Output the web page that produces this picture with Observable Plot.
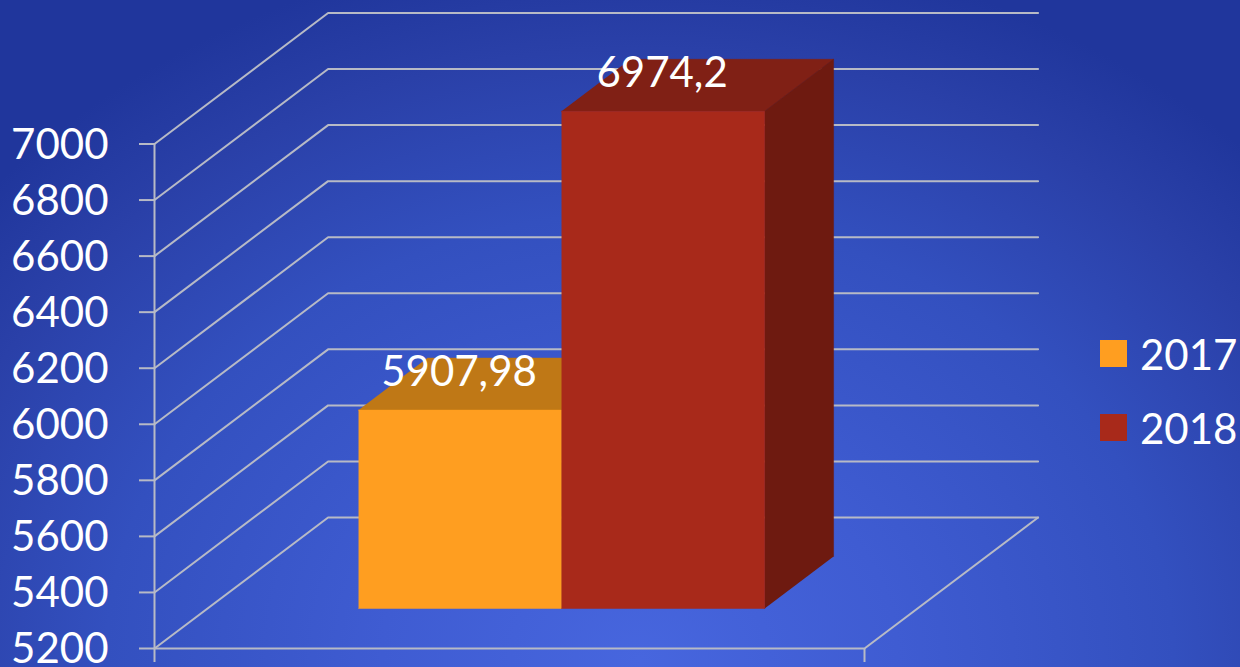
<!DOCTYPE html>
<html>
<head>
<meta charset="utf-8">
<script src="https://cdn.jsdelivr.net/npm/d3@7"></script>
<script src="https://cdn.jsdelivr.net/npm/@observablehq/plot@0.6"></script>
<style>
  html, body { margin: 0; padding: 0; background: #22389c; }
  #frame {
    position: relative; width: 1240px; height: 667px; overflow: hidden;
    background: radial-gradient(ellipse 860px 720px at 640px 660px, #4766de 0%, #3f5cd2 30%, #3350bf 62%, #2a40a8 85%, #20369c 100%);
    font-family: Lato, sans-serif;
  }
  #frame svg { position: absolute; left: 0; top: 0; }
  .legend { position: absolute; left: 1100px; top: 316.5px; color: #fff; font-size: 42px; line-height: 74px; }
  .legend div { display: flex; align-items: center; height: 74px; }
  .legend i { display: block; width: 27px; height: 27px; margin-right: 13px; }
</style>
</head>
<body>
<div id="frame"></div>
<script>
const categories = ["2017", "2018"];
const values = [5907.98, 6974.2];
const labels = ["5907,98", "6974,2"];
const frontColors = ["#ff9e20", "#a8291a"];
const topColors = ["#bf7816", "#802015"];
const sideColors = ["#bf7816", "#6e1a10"];
const yTicks = [5200, 5400, 5600, 5800, 6000, 6200, 6400, 6600, 6800, 7000];
const barEdges = [0.2128, 0.4987, 0.7848];
const depthNear = 0.305;
const depthFar = 0.702;
const yMin = 5200, yMax = 7000;

// Oblique 3D: depth 1 moves a point this far along the x and value scales.
const depthX = 0.2445;
const depthY = 467.4;
const at = (x, v, z) => ({x: x + z * depthX, y: v + z * depthY});

const lineColor = "#b7bac6";
const lineWidth = 2;
const gridStyle = {x: "x", y: "y", stroke: lineColor, strokeWidth: lineWidth};

const wallLines = yTicks.map(v => [at(0, v, 0), at(0, v, 1), at(1, v, 1)]);
const floorLine = [at(0, yMin, 0), at(1, yMin, 0), at(1, yMin, 1)];

const face = (pts, fill) => Plot.line(pts, {x: "x", y: "y", fill, stroke: fill, strokeWidth: 0.5});

const barMarks = categories.flatMap((c, i) => {
  const x0 = barEdges[i], x1 = barEdges[i + 1], v = values[i];
  return [
    face([at(x0, v, depthNear), at(x1, v, depthNear), at(x1, v, depthFar), at(x0, v, depthFar)], topColors[i]),
    face([at(x1, yMin, depthNear), at(x1, v, depthNear), at(x1, v, depthFar), at(x1, yMin, depthFar)], sideColors[i]),
    face([at(x0, yMin, depthNear), at(x1, yMin, depthNear), at(x1, v, depthNear), at(x0, v, depthNear)], frontColors[i])
  ];
});

const labelData = categories.map((c, i) => ({
  ...at((barEdges[i] + barEdges[i + 1]) / 2, values[i], depthNear),
  text: labels[i]
}));

const chart = Plot.plot({
  width: 1240,
  height: 667,
  marginLeft: 154,
  marginRight: 376,
  marginTop: 143.5,
  marginBottom: 19,
  style: {background: "transparent", fontFamily: "Lato, sans-serif", overflow: "visible"},
  x: {domain: [0, 1]},
  y: {domain: [yMin, yMax]},
  marks: [
    ...wallLines.map(l => Plot.line(l, gridStyle)),
    Plot.line(floorLine, gridStyle),
    Plot.ruleX([0], {y1: yMin, y2: yMax, stroke: lineColor, strokeWidth: lineWidth}),
    Plot.axisY({
      ticks: yTicks, tickFormat: () => "", tickSize: 15,
      stroke: lineColor, strokeWidth: lineWidth, label: null
    }),
    Plot.axisY({
      ticks: yTicks, tickFormat: d => String(d), tickSize: 0, tickPadding: 46,
      fontSize: 42, dy: 1.5, fill: "#fff", label: null
    }),
    Plot.axisX({
      ticks: [0, 1], tickFormat: () => "", tickSize: 14,
      stroke: lineColor, strokeWidth: lineWidth, label: null
    }),
    ...barMarks,
    Plot.text(labelData, {x: "x", y: "y", text: "text", dx: -1, dy: -38, fontSize: 42, fill: "#fff", textAnchor: "middle"})
  ]
});

const frame = document.getElementById("frame");
frame.appendChild(chart);

const legend = document.createElement("div");
legend.className = "legend";
categories.forEach((c, i) => {
  const row = document.createElement("div");
  const sw = document.createElement("i");
  sw.style.background = frontColors[i];
  row.appendChild(sw);
  row.appendChild(document.createTextNode(c));
  legend.appendChild(row);
});
frame.appendChild(legend);
</script>
</body>
</html>
